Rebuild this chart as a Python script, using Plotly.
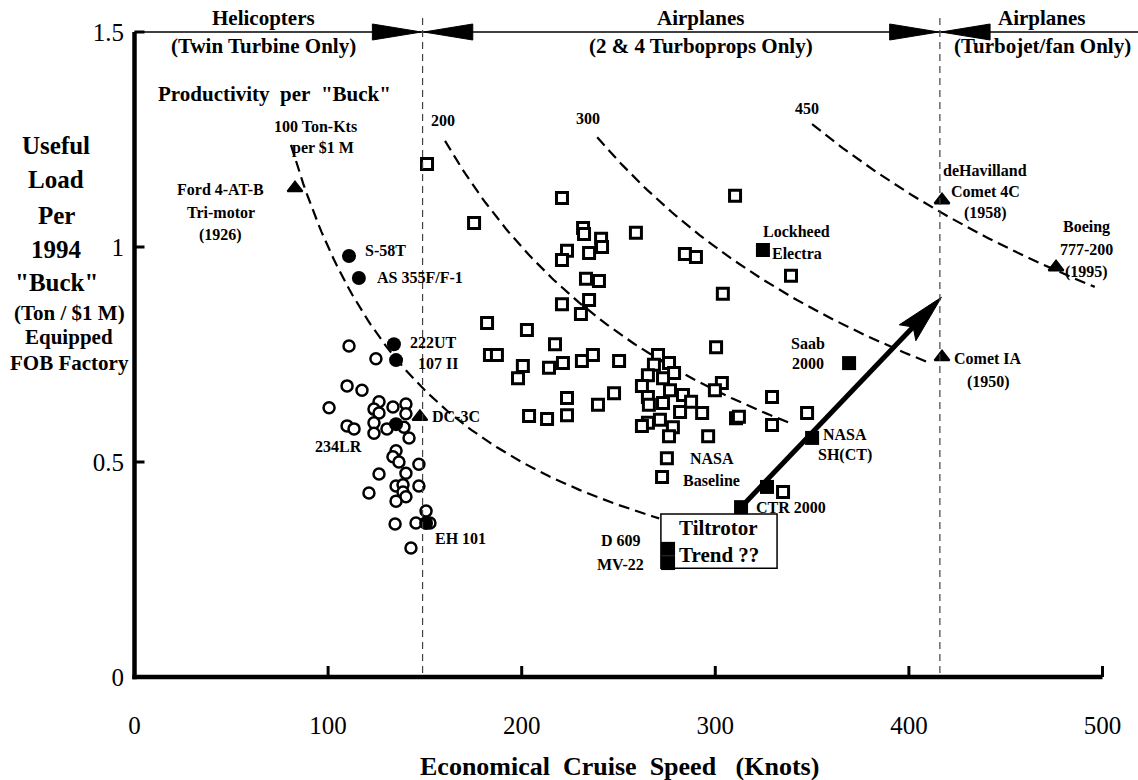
import math
import plotly.graph_objects as go

SERIF = "Liberation Serif"

# ---------------- data ----------------
X_TICKS = [0, 100, 200, 300, 400, 500]
X_TICK_LABELS = ["0", "100", "200", "300", "400", "500"]
Y_TICKS = [0, 0.5, 1, 1.5]
Y_TICK_LABELS = ["0", "0.5", "1", "1.5"]

# cruise speeds separating the three aircraft classes (knots)
CLASS_LIMITS = [148.8, 416.0]
CLASS_TITLES = ["Helicopters", "Airplanes", "Airplanes"]
CLASS_SUBTITLES = ["(Twin Turbine Only)", "(2 & 4 Turboprops Only)", "(Turbojet/fan Only)"]

# constant-productivity lines: useful load x speed = ton-kts per $1 M
ISO_PRODUCTIVITY = [100, 200, 300, 450]
ISO_X_START = [80.8, 160.4, 239.0, 350.0]
ISO_X_END = [271.0, 340.0, 411.0, 496.0]

# twin-turbine helicopters (open circles)
HELI_X = [110.8, 124.7, 109.8, 117.5, 100.5, 126.3, 123.7, 126.3, 133.5, 140.2,
          140.2, 109.8, 113.4, 123.7, 123.7, 130.4, 139.2, 141.8, 135.1, 133.5,
          136.6, 146.9, 140.2, 126.3, 135.1, 138.7, 146.9, 138.7, 140.2, 135.1,
          121.1, 150.6, 134.6, 145.4, 152.6, 142.8]
HELI_Y = [0.770, 0.740, 0.677, 0.667, 0.626, 0.640, 0.623, 0.614, 0.628, 0.635,
          0.612, 0.584, 0.577, 0.591, 0.567, 0.577, 0.581, 0.556, 0.526, 0.512,
          0.500, 0.495, 0.474, 0.472, 0.444, 0.447, 0.444, 0.430, 0.419, 0.409,
          0.428, 0.386, 0.356, 0.358, 0.358, 0.300]

# named helicopters (filled circles)
HELI_NAMES = ["S-58T", "AS 355F/F-1", "222UT", "107 II", "234LR", "EH 101"]
HELI_NAMED_X = [110.8, 115.9, 134.0, 135.1, 135.1, 150.6]
HELI_NAMED_Y = [0.979, 0.928, 0.774, 0.737, 0.588, 0.358]

# 2 & 4 engine turboprop airplanes (open squares)
PROP_X = [151.1, 175.4, 220.8, 231.7, 232.2, 241.0, 241.5, 223.4, 220.8, 234.8,
          259.0, 233.2, 239.9, 220.8, 234.8, 230.6, 182.1, 202.7, 217.2, 284.3,
          290.0, 183.6, 187.2, 200.6, 198.1, 214.1, 221.3, 231.1, 236.8, 250.3,
          223.4, 223.4, 203.8, 213.1, 239.4, 247.7, 300.4, 270.4, 268.3, 276.1,
          278.7, 265.2, 273.0, 262.1, 276.6, 265.2, 283.3, 273.0, 287.5, 265.7,
          281.8, 293.2, 271.4, 265.2, 262.1, 278.1, 276.1, 296.3, 303.4, 299.8,
          310.7, 272.5, 339.1, 303.9, 310.2, 329.3, 347.4, 312.2, 329.3, 335.0]
PROP_Y = [1.193, 1.056, 1.114, 1.044, 1.030, 1.019, 1.000, 0.991, 0.970, 0.986,
          1.033, 0.926, 0.921, 0.867, 0.877, 0.844, 0.823, 0.807, 0.774, 0.984,
          0.977, 0.749, 0.749, 0.723, 0.695, 0.719, 0.730, 0.735, 0.749, 0.735,
          0.649, 0.609, 0.607, 0.600, 0.633, 0.660, 0.767, 0.749, 0.726, 0.730,
          0.707, 0.702, 0.695, 0.677, 0.667, 0.651, 0.656, 0.637, 0.640, 0.633,
          0.616, 0.614, 0.598, 0.591, 0.584, 0.581, 0.560, 0.560, 0.684, 0.667,
          0.602, 0.465, 0.933, 0.891, 1.119, 0.651, 0.614, 0.605, 0.586, 0.430]

BASELINE_NAME = ["NASA", "Baseline"]
BASELINE_X = [275.0]
BASELINE_Y = [0.509]

# highlighted turboprops and tiltrotors (filled squares)
TILT_NAMES = [["Lockheed", "Electra"], ["Saab", "2000"], ["NASA", "SH(CT)"], [],
              ["CTR 2000"], ["D 609"], ["MV-22"]]
TILT_X = [324.6, 369.1, 350.0, 326.7, 313.3, 275.6, 275.6]
TILT_Y = [0.993, 0.730, 0.556, 0.442, 0.395, 0.298, 0.265]

# reference aircraft (filled triangles)
JET_NAMES = [["Ford 4-AT-B", "Tri-motor", "(1926)"], ["DC-3C"],
             ["deHavilland", "Comet 4C", "(1958)"], ["Comet IA", "(1950)"],
             ["Boeing", "777-200", "(1995)"]]
JET_X = [82.9, 147.4, 417.1, 417.1, 476.0]
JET_Y = [1.137, 0.605, 1.109, 0.744, 0.953]

# tiltrotor trend arrow (start, tip)
TREND_X = [313.3, 416.8]
TREND_Y = [0.395, 0.883]

# ---------------- page geometry ----------------
W, H = 1138, 780
ML, MR, MT, MB = 127, 0, 6, 96
KT_PX = 1.936       # pixels per knot
LOAD_PX = 430.0     # pixels per ton / $1 M
X0_PX, Y0_PX = 134.5, 677.0   # page position of the origin
PW, PH = W - ML - MR, H - MT - MB
X_RANGE = [(ML - X0_PX) / KT_PX, (ML + PW - X0_PX) / KT_PX]
Y_RANGE = [-(MT + PH - Y0_PX) / LOAD_PX, (Y0_PX - MT) / LOAD_PX]


def paper_x(px):
    return (px - ML) / PW


def paper_y(py):
    return 1 - (py - MT) / PH


def dx_kt(px):
    return px / KT_PX


def dy_load(px):
    return px / LOAD_PX


def text_note(text, x, y, size, xref="x", yref="y", xshift=0, yshift=0,
              anchor="center", bold=True):
    return dict(text=text, x=x, y=y, xref=xref, yref=yref, xshift=xshift,
                yshift=yshift, xanchor=anchor, yanchor="middle", showarrow=False,
                font=dict(family=SERIF, size=size, color="black",
                          weight="bold" if bold else "normal"))


def mark_label(lines, x, y, dx, dy, spacing=22, anchor="center", size=16):
    """Stack of label lines beside a mark; dx/dy in pixels, dy downwards."""
    return [text_note(t, x, y, size, xshift=dx, yshift=-(dy + i * spacing),
                      anchor=anchor) for i, t in enumerate(lines)]


fig = go.Figure()

# iso-productivity curves
for p, xa, xb in zip(ISO_PRODUCTIVITY, ISO_X_START, ISO_X_END):
    xs = [xa + (xb - xa) * i / 120 for i in range(121)]
    fig.add_trace(go.Scatter(x=xs, y=[p / v for v in xs], mode="lines",
                             line=dict(color="black", width=2.2, dash="11px,6px"),
                             hoverinfo="skip", showlegend=False))

fig.add_trace(go.Scatter(
    x=HELI_X, y=HELI_Y, mode="markers", name="Helicopters",
    marker=dict(symbol="circle", size=11, color="white",
                line=dict(color="black", width=2.5)), showlegend=False))
fig.add_trace(go.Scatter(
    x=HELI_NAMED_X, y=HELI_NAMED_Y, mode="markers", text=HELI_NAMES,
    marker=dict(symbol="circle", size=14, color="black"), showlegend=False))
fig.add_trace(go.Scatter(
    x=PROP_X + BASELINE_X, y=PROP_Y + BASELINE_Y, mode="markers",
    marker=dict(symbol="square", size=11, color="white",
                line=dict(color="black", width=3)), showlegend=False))

# tiltrotor trend arrow
dxp = (TREND_X[1] - TREND_X[0]) * KT_PX
dyp = (TREND_Y[1] - TREND_Y[0]) * LOAD_PX
length = math.hypot(dxp, dyp)
ux, uy = dxp / length, dyp / length


def back_from_tip(along, across):
    px = -ux * along - uy * across
    py = -uy * along + ux * across
    return TREND_X[1] + dx_kt(px), TREND_Y[1] + dy_load(py)


shaft_end = back_from_tip(40, 0)
fig.add_trace(go.Scatter(x=[TREND_X[0], shaft_end[0]], y=[TREND_Y[0], shaft_end[1]],
                         mode="lines", line=dict(color="black", width=5),
                         hoverinfo="skip", showlegend=False))
head = [(TREND_X[1], TREND_Y[1]), back_from_tip(49, 11.5), back_from_tip(41, 0),
        back_from_tip(49, -11.5), (TREND_X[1], TREND_Y[1])]
fig.add_trace(go.Scatter(x=[p[0] for p in head], y=[p[1] for p in head],
                         mode="lines", fill="toself", fillcolor="black",
                         line=dict(color="black", width=1),
                         hoverinfo="skip", showlegend=False))

fig.add_trace(go.Scatter(
    x=TILT_X, y=TILT_Y, mode="markers",
    marker=dict(symbol="square", size=14, color="black"), showlegend=False))
fig.add_trace(go.Scatter(
    x=JET_X, y=JET_Y, mode="markers",
    marker=dict(symbol="triangle-up", size=13, color="black",
                line=dict(color="black", width=2)), showlegend=False))

# ---------------- frame ----------------
shapes = []
axis_line = dict(color="black", width=4.5)
shapes.append(dict(type="line", xref="x", yref="y", x0=0, x1=0,
                   y0=-dy_load(2.2), y1=Y_TICKS[-1], line=axis_line))
shapes.append(dict(type="line", xref="x", yref="y", x0=-dx_kt(2.2), x1=X_TICKS[-1],
                   y0=0, y1=0, line=axis_line))
for t in Y_TICKS[1:]:
    shapes.append(dict(type="line", xref="x", yref="y", x0=0, x1=dx_kt(10),
                       y0=t, y1=t, line=dict(color="black", width=3)))
for t in X_TICKS[1:]:
    shapes.append(dict(type="line", xref="x", yref="y", x0=t, x1=t,
                       y0=0, y1=dy_load(11), line=dict(color="black", width=3)))

# class header: line across the top with arrowheads meeting at each limit
top = Y_TICKS[-1]
shapes.append(dict(type="line", xref="x", yref="y", x0=0, x1=X_RANGE[1],
                   y0=top, y1=top, line=dict(color="black", width=1.5)))
half = dy_load(8)
for lim in CLASS_LIMITS:
    shapes.append(dict(type="line", xref="x", yref="y", x0=lim, x1=lim,
                       y0=dy_load(4), y1=top + dy_load(18),
                       line=dict(color="#444444", width=1.2, dash="7px,5px")))
    for side in (-1, 1):
        tip = lim + side * dx_kt(1.2)
        base = tip + side * dx_kt(49)
        shapes.append(dict(type="path", xref="x", yref="y",
                           path=f"M{base},{top - half} L{tip},{top} L{base},{top + half} Z",
                           fillcolor="black", line=dict(color="black", width=1)))

# text box for the tiltrotor trend
shapes.append(dict(type="rect", xref="x", yref="y", layer="below",
                   x0=271.9, x1=331.9, y0=0.253, y1=0.379,
                   fillcolor="white", line=dict(color="black", width=1.5)))

# ---------------- text ----------------
ann = []
nb = "\u00a0"
for title, sub, px in zip(CLASS_TITLES, CLASS_SUBTITLES, [263, 701, 1042]):
    ann.append(text_note(title, paper_x(px), paper_y(18), 21, "paper", "paper"))
    ann.append(text_note(sub, paper_x(px), paper_y(46), 21, "paper", "paper"))
ann.append(text_note(f"Productivity{nb} per{nb} \"Buck\"", paper_x(274), paper_y(94),
                     21, "paper", "paper"))

for line, px, py, size in [("Useful", 56, 145, 25), ("Load", 56, 180, 25),
                           ("Per", 56, 215, 25), ("1994", 56, 249, 25),
                           ("\"Buck\"", 56, 282, 25), ("(Ton / $1 M)", 69, 313, 21),
                           ("Equipped", 69, 337, 21), ("FOB Factory", 69, 363, 21)]:
    ann.append(text_note(line, paper_x(px), paper_y(py), size, "paper", "paper"))

ann.append(text_note(f"Economical{nb} Cruise{nb} Speed{nb}{nb} (Knots)",
                     paper_x(619), paper_y(766), 26, "paper", "paper"))

# iso-line labels
iso_text = [["100 Ton-Kts", "per $1 M"], ["200"], ["300"], ["450"]]
iso_offsets = [[(25, -18), (32, 3)], [(-2, -20)], [(-9, -19)], [(-5, -16)]]
for p, xa, lines, offs in zip(ISO_PRODUCTIVITY, ISO_X_START, iso_text, iso_offsets):
    for t, (ox, oy) in zip(lines, offs):
        ann += mark_label([t], xa, p / xa, ox, oy)

heli_offsets = [(14, -6, "left"), (16, 0, "left"), (14, -2, "left"),
                (20, 3, "left"), (-58, 22, "center"), (7, 15, "left")]
for name, x, y, (ox, oy, anc) in zip(HELI_NAMES, HELI_NAMED_X, HELI_NAMED_Y, heli_offsets):
    ann += mark_label([name], x, y, ox, oy, anchor=anc)

tilt_offsets = [(34, -19, 22, "center"), (-41, -20, 20, "center"),
                (33, -3, 20, "center"), (0, 0, 0, "center"), (13, 0, 0, "left"),
                (-47, -8, 0, "center"), (-48, 1, 0, "center")]
for lines, x, y, (ox, oy, sp, anc) in zip(TILT_NAMES, TILT_X, TILT_Y, tilt_offsets):
    ann += mark_label(lines, x, y, ox, oy, spacing=sp, anchor=anc)

ann += mark_label(BASELINE_NAME, BASELINE_X[0], BASELINE_Y[0], 45, 0, spacing=22)

jet_offsets = [(-74, 1, 23, "center"), (10, 0, 0, "left"), (43, -30, 21.5, "center"),
               (46, 1, 24, "center"), (30, -40, 22.5, "center")]
for lines, x, y, (ox, oy, sp, anc) in zip(JET_NAMES, JET_X, JET_Y, jet_offsets):
    ann += mark_label(lines, x, y, ox, oy, spacing=sp, anchor=anc)

box_x = (271.9 + 331.9) / 2
ann.append(text_note("Tiltrotor", box_x, 0.379, 21, yshift=-14))
ann.append(text_note("Trend ??", box_x, 0.379, 21, yshift=-41))

fig.update_layout(
    width=W, height=H, margin=dict(l=ML, r=MR, t=MT, b=MB),
    paper_bgcolor="white", plot_bgcolor="white", showlegend=False,
    shapes=shapes, annotations=ann,
    xaxis=dict(range=X_RANGE, tickvals=X_TICKS, ticktext=X_TICK_LABELS,
               ticks="", showgrid=False, zeroline=False, showline=False,
               ticklabelstandoff=24,
               tickfont=dict(family=SERIF, size=25, color="black")),
    yaxis=dict(range=Y_RANGE, tickvals=Y_TICKS, ticktext=Y_TICK_LABELS,
               ticks="", showgrid=False, zeroline=False, showline=False,
               ticklabelstandoff=2,
               tickfont=dict(family=SERIF, size=25, color="black")),
)

fig.write_html("out.html")
